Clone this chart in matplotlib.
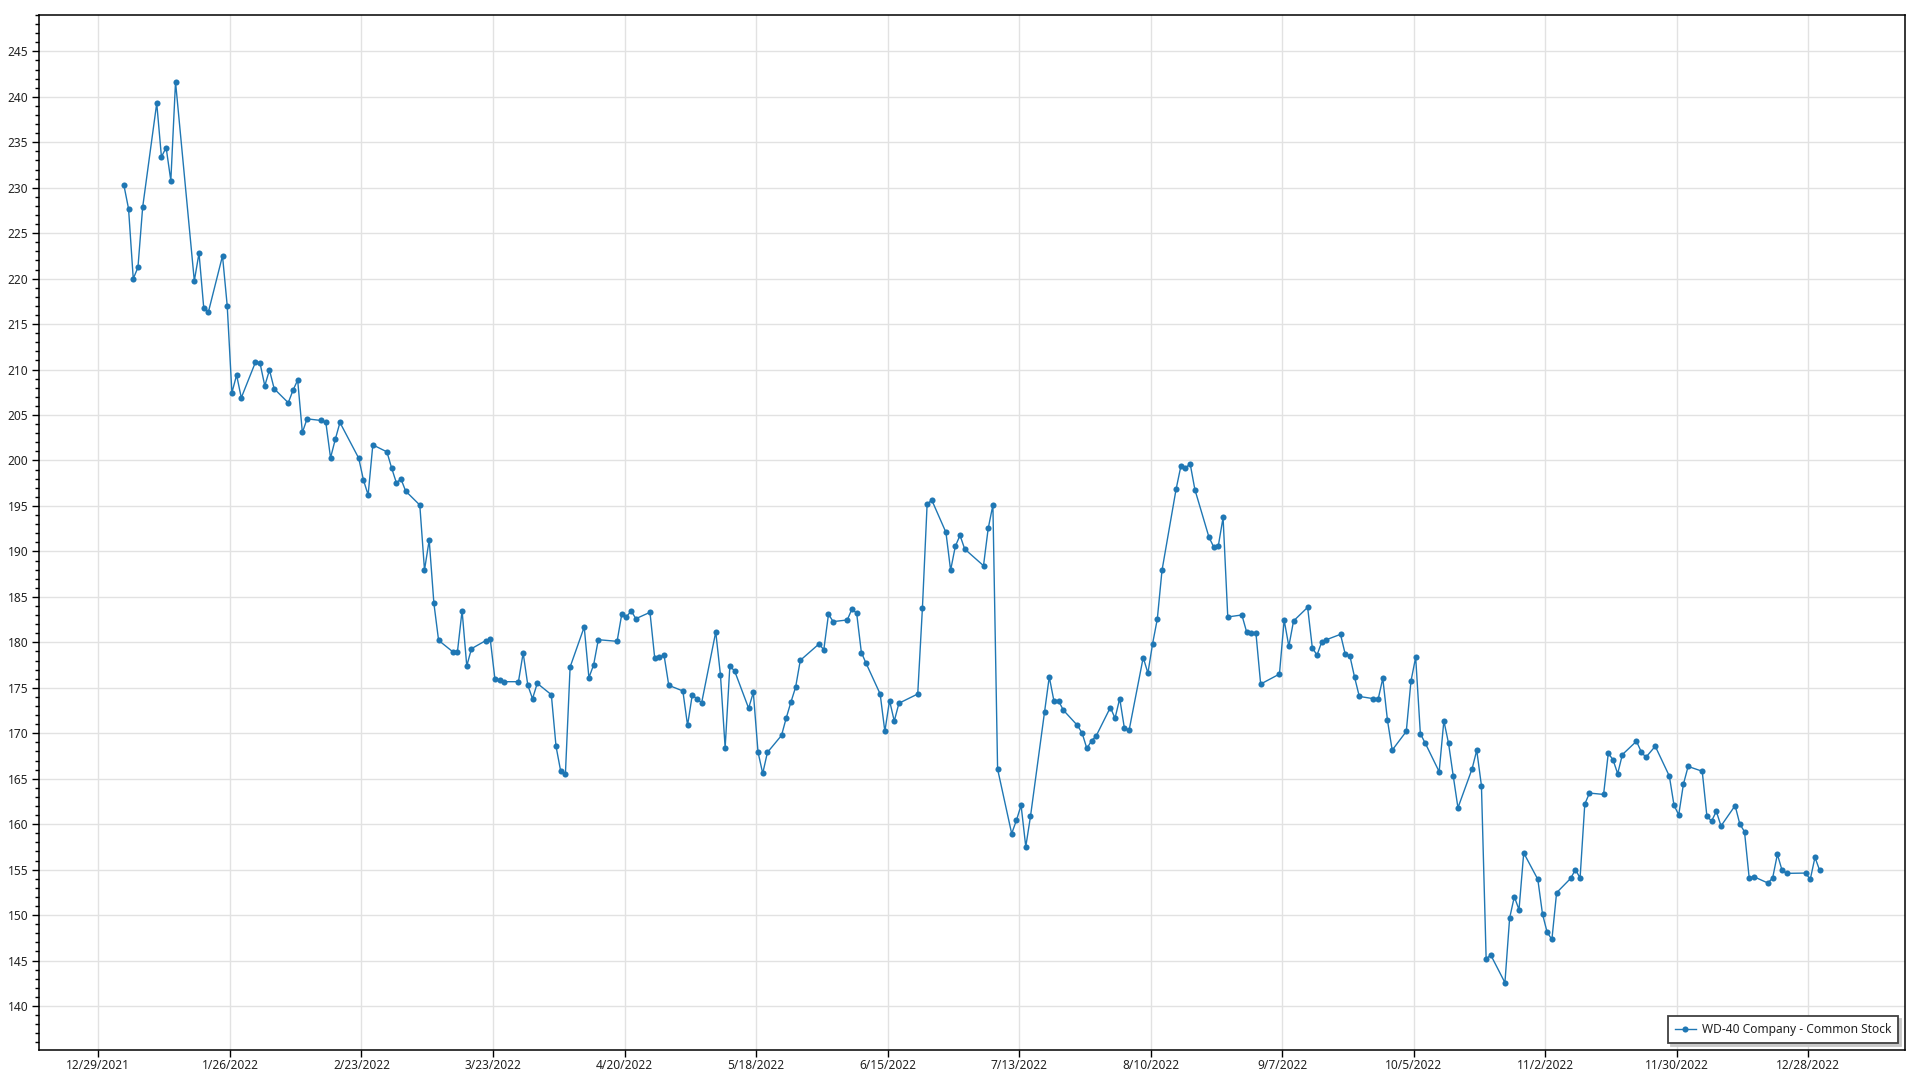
import datetime as dt
import matplotlib
matplotlib.use("Agg")
import matplotlib.pyplot as plt
from matplotlib.ticker import MultipleLocator

# WD-40 Company (WDFC) daily close, 2022
jan_days = [3, 4, 5, 6, 7, 10, 11, 12, 13, 14, 18, 19, 20, 21, 24, 25, 26, 27, 28, 31]
jan_close = [230.30, 227.69, 220.00, 221.23, 227.84, 239.30, 233.39, 234.42, 230.78, 241.65,
             219.76, 222.81, 216.82, 216.34, 222.51, 217.04, 207.45, 209.40, 206.90, 210.79]

feb_days = [1, 2, 3, 4, 7, 8, 9, 10, 11, 14, 15, 16, 17, 18, 22, 23, 24, 25, 28]
feb_close = [210.68, 208.22, 209.95, 207.89, 206.35, 207.71, 208.85, 203.08, 204.58, 204.40,
             204.18, 200.29, 202.31, 204.18, 200.25, 197.86, 196.21, 201.72, 200.95]

mar_days = [1, 2, 3, 4, 7, 8, 9, 10, 11, 14, 15, 16, 17, 18, 21, 22, 23, 24, 25, 28, 29, 30, 31]
mar_close = [199.18, 197.57, 197.95, 196.63, 195.10, 187.95, 191.25, 184.29, 180.22, 178.97,
             178.90, 183.48, 177.40, 179.30, 180.18, 180.33, 175.93, 175.86, 175.67, 175.67,
             178.83, 175.27, 173.80]

apr_days = [1, 4, 5, 6, 7, 8, 11, 12, 13, 14, 18, 19, 20, 21, 22, 25, 26, 27, 28, 29]
apr_close = [175.49, 174.24, 168.56, 165.81, 165.56, 177.29, 181.69, 176.11, 177.51, 180.29,
             180.11, 183.12, 182.82, 183.45, 182.60, 183.30, 178.31, 178.35, 178.57, 175.27]

may_days = [2, 3, 4, 5, 6, 9, 10, 11, 12, 13, 16, 17, 18, 19, 20, 23, 24, 25, 26, 27, 31]
may_close = [174.65, 170.87, 174.21, 173.79, 173.35, 181.14, 176.43, 168.40, 177.36, 176.88,
             172.75, 174.49, 167.93, 165.58, 167.89, 169.76, 171.67, 173.42, 175.06, 178.02,
             179.83]

jun_days = [1, 2, 3, 6, 7, 8, 9, 10, 13, 14, 15, 16, 17, 21, 22, 23, 24, 27, 28, 29, 30]
jun_close = [179.17, 183.08, 182.28, 182.46, 183.67, 183.19, 178.88, 177.70, 174.32, 170.20,
             173.60, 171.34, 173.30, 174.32, 183.81, 195.23, 195.63, 192.10, 187.93, 190.56,
             191.77]

jul_days = [1, 5, 6, 7, 8, 11, 12, 13, 14, 15, 18, 19, 20, 21, 22, 25, 26, 27, 28, 29]
jul_close = [190.26, 188.43, 192.53, 195.10, 166.06, 158.96, 160.41, 162.07, 157.52, 160.85,
             172.39, 176.20, 173.53, 173.53, 172.54, 170.86, 170.01, 168.33, 169.17, 169.72]

aug_days = [1, 2, 3, 4, 5, 8, 9, 10, 11, 12, 15, 16, 17, 18, 19, 22, 23, 24, 25, 26, 29, 30, 31]
aug_close = [172.83, 171.66, 173.82, 170.53, 170.34, 178.33, 176.61, 179.86, 182.57, 187.92,
             196.85, 199.34, 199.20, 199.62, 196.80, 191.56, 190.50, 190.65, 193.73, 182.79,
             183.01, 181.17, 180.99]

sep_days = [1, 2, 6, 7, 8, 9, 12, 13, 14, 15, 16, 19, 20, 21, 22, 23, 26, 27, 28, 29, 30]
sep_close = [180.99, 175.41, 176.51, 182.46, 179.56, 182.35, 183.85, 179.38, 178.60, 180.04,
             180.29, 180.88, 178.71, 178.49, 176.15, 174.05, 173.80, 173.72, 176.04, 171.41,
             168.14]

oct_days = [3, 4, 5, 6, 7, 10, 11, 12, 13, 14, 17, 18, 19, 20, 21, 24, 25, 26, 27, 28, 31]
oct_close = [170.20, 175.74, 178.35, 169.94, 168.95, 165.77, 171.37, 168.89, 165.29, 161.80,
             166.07, 168.13, 164.23, 145.22, 145.59, 142.57, 149.67, 152.02, 150.59, 156.84,
             153.93]

nov_days = [1, 2, 3, 4, 7, 8, 9, 10, 11, 14, 15, 16, 17, 18, 21, 22, 23, 25, 28, 29, 30]
nov_close = [150.11, 148.09, 147.32, 152.46, 154.04, 155.00, 154.08, 162.21, 163.42, 163.27,
             167.79, 167.10, 165.55, 167.65, 169.12, 167.98, 167.35, 168.57, 165.29, 162.06,
             161.03]

dec_days = [1, 2, 5, 6, 7, 8, 9, 12, 13, 14, 15, 16, 19, 20, 21, 22, 23, 27, 28, 29, 30]
dec_close = [164.41, 166.35, 165.82, 160.86, 160.35, 161.41, 159.80, 162.04, 160.02, 159.17,
             154.07, 154.22, 153.52, 154.11, 156.68, 154.92, 154.59, 154.62, 153.93, 156.35,
             154.92]

tick_labels = ['12/29/2021', '1/26/2022', '2/23/2022', '3/23/2022', '4/20/2022', '5/18/2022',
               '6/15/2022', '7/13/2022', '8/10/2022', '9/7/2022', '10/5/2022', '11/2/2022',
               '11/30/2022', '12/28/2022']
series_name = 'WD-40 Company - Common Stock'

month_days = [jan_days, feb_days, mar_days, apr_days, may_days, jun_days,
              jul_days, aug_days, sep_days, oct_days, nov_days, dec_days]
month_close = [jan_close, feb_close, mar_close, apr_close, may_close, jun_close,
               jul_close, aug_close, sep_close, oct_close, nov_close, dec_close]

# points in the source sit a little after midnight (timestamps not at 00:00)
dates, prices = [], []
for m, (dd, cc) in enumerate(zip(month_days, month_close), start=1):
    for d, c in zip(dd, cc):
        dates.append(dt.datetime(2022, m, d, 10))
        prices.append(c)

tick_dates = [dt.datetime.strptime(s, '%m/%d/%Y') for s in tick_labels]

plt.rcParams['font.family'] = ['Noto Sans', 'DejaVu Sans']
blue = '#1f77b4'
txt = '#222222'

fig = plt.figure(figsize=(19.2, 10.8), dpi=100)
ax = fig.add_axes([39.3/1920, 30/1080, (1905-39.3)/1920, (1050-15)/1080])

ax.plot(dates, prices, color=blue, lw=1.0, marker='o', markersize=4.4,
        markeredgewidth=0, label=series_name)

ax.set_xlim(dt.datetime(2021, 12, 16, 10), dt.datetime(2023, 1, 17, 14))
ax.set_ylim(135.16, 249.0)

ax.set_xticks(tick_dates)
ax.set_xticklabels(tick_labels)
ax.yaxis.set_major_locator(MultipleLocator(5))
ax.yaxis.set_minor_locator(MultipleLocator(1))

ax.tick_params(axis='both', which='major', labelsize=8.6, colors='black',
               labelcolor=txt, length=5, width=1)
ax.tick_params(axis='y', which='minor', length=3, width=1)
ax.tick_params(axis='x', pad=1.5)
ax.tick_params(axis='y', pad=3)

ax.grid(True, which='major', color='#e2e2e2', lw=1.0)
ax.set_axisbelow(True)
for sp in ax.spines.values():
    sp.set_color('black')
    sp.set_linewidth(1.1)

leg = ax.legend(loc='lower right', fontsize=8.6, frameon=True, fancybox=False,
                edgecolor='#404040', framealpha=1,
                shadow={'color': '#c8c8c8', 'alpha': 1},
                borderaxespad=0.55, borderpad=0.6, handlelength=1.75,
                handletextpad=0.5)
leg.get_frame().set_linewidth(1.3)
for t in leg.get_texts():
    t.set_color(txt)

fig.savefig('out.png', dpi=100)
